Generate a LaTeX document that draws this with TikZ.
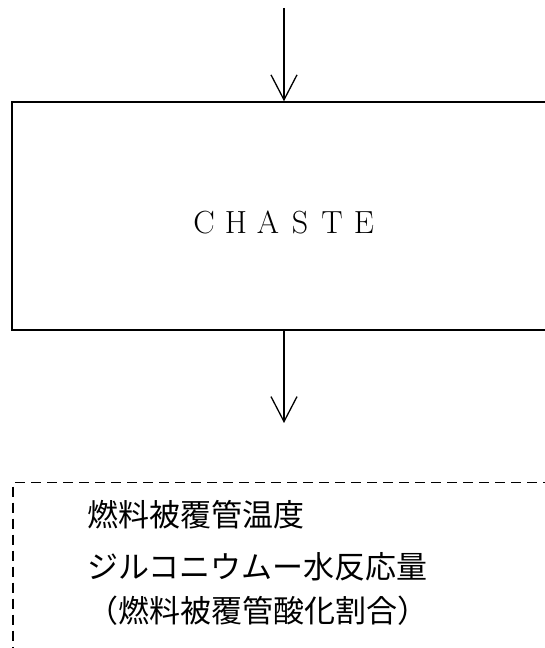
\documentclass[tikz,border=0pt]{standalone}
\usepackage{fontspec}
\newfontfamily\jp{Noto Sans CJK JP}
\usetikzlibrary{arrows.meta}
\begin{document}
\begin{tikzpicture}[x=1pt,y=1pt,
  arr/.style={line width=1.3pt,-{Straight Barb[length=25pt,width=26pt,line width=1.3pt]}},
  procbox/.style={draw,line width=1.5pt,minimum width=544pt,minimum height=228pt,inner sep=0pt},
  outbox/.style={draw,dash pattern=on 10pt off 6pt,line width=1.5pt,minimum width=544pt,minimum height=220pt,inner sep=0pt},
  lbl/.style={inner sep=0pt,font=\fontsize{32}{38}\selectfont},
  jptext/.style={anchor=base west,inner sep=0pt,font=\jp\fontsize{31}{31}\selectfont}]
\useasboundingbox (0,0) rectangle (545,648);
\clip (0,0) rectangle (545,648);
\node[procbox] (box) at (284,432) {};
\node[lbl] (name) at (284,426) {\makebox[32pt]{C}\makebox[32pt]{H}\makebox[32pt]{A}\makebox[32pt]{S}\makebox[32pt]{T}\makebox[32pt]{E}};
\coordinate (in) at (284,640);
\coordinate (out) at (284,225);
\draw[arr] (in) -- (box.north);
\draw[arr] (box.south) -- (out);
\node[outbox,anchor=north west] (res) at (12,166) {};
\node[jptext] (t1) at (87,121) {燃料被覆管温度};
\node[jptext] (t2) at (87,69) {ジルコニウムー水反応量};
\node[jptext] (t3) at (87,25) {（燃料被覆管酸化割合）};
\end{tikzpicture}
\end{document}
